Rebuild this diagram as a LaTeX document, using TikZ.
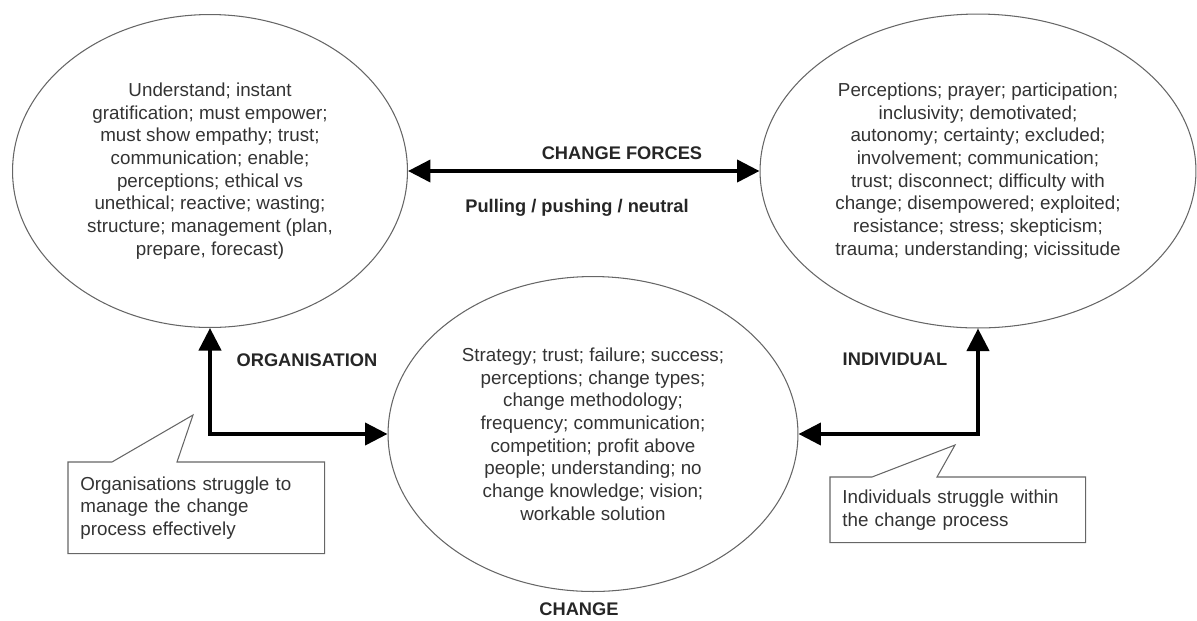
\documentclass[tikz,border=0pt]{standalone}
\usepackage{fontspec}
\setmainfont{Liberation Sans}
\usetikzlibrary{shapes,arrows.meta,positioning,calc}

\begin{document}
\begin{tikzpicture}[x=0.02cm, y=-0.02cm,
        every node/.style={text=black!80, font=\fontsize{10.7}{12.9}\selectfont},
        bubble/.style={draw=black!60, line width=0.6pt, ellipse, inner sep=0pt, align=center},
        heading/.style={font=\fontsize{10.4}{12}\selectfont\bfseries, text=black!85},
        force/.style={line width=2.3pt, {Triangle[length=0.45cm, width=0.44cm]}-{Triangle[length=0.45cm, width=0.44cm]}},
        notebox/.style={anchor=north west, inner xsep=0.24cm, inner ysep=0pt, align=left},
        noteline/.style={draw=black!60, line width=0.6pt}]
    \useasboundingbox (0,0) rectangle (1197,620);

    \node[bubble, minimum width=7.9cm, minimum height=6.26cm] (org) at (210,171)
        {Understand; instant\\ gratification; must empower;\\ must show empathy; trust;\\ communication; enable;\\
         perceptions; ethical vs\\ unethical; reactive; wasting;\\ structure; management (plan,\\ prepare, forecast)};
    \node[bubble, minimum width=8.72cm, minimum height=6.28cm] (ind) at (978,171)
        {Perceptions; prayer; participation;\\ inclusivity; demotivated;\\ autonomy; certainty; excluded;\\ involvement; communication;\\
         trust; disconnect; difficulty with\\ change; disempowered; exploited;\\ resistance; stress; skepticism;\\ trauma; understanding; vicissitude};
    \node[bubble, minimum width=8.2cm, minimum height=6.3cm] (chg) at (593,434)
        {Strategy; trust; failure; success;\\ perceptions; change types;\\ change methodology;\\ frequency; communication;\\
         competition; profit above\\ people; understanding; no\\ change knowledge; vision;\\ workable solution};

    \node[heading] (forces) at (622,153) {CHANGE FORCES};
    \node[heading] (pull) at (577,208) {Pulling / pushing / neutral};
    \node[heading] (orglabel) at (307,360) {ORGANISATION};
    \node[heading] (indlabel) at (895,359) {INDIVIDUAL};
    \node[heading] (chglabel) at (579,609) {CHANGE};

    \draw[force] (org.east) -- (ind.west);
    \draw[force] (org.south) |- (chg.west);
    \draw[force] (ind.south) |- (chg.east);

    \node[notebox, minimum width=5.12cm, minimum height=1.82cm, text width=4.64cm] (orgnote) at (68,462)
        {Organisations struggle to\\ manage the change\\ process effectively};
    \node[notebox, minimum width=5.1cm, minimum height=1.3cm, text width=4.62cm] (indnote) at (830,477)
        {Individuals struggle within\\ the change process};
    \coordinate (orgtip) at (193,415);
    \coordinate (indtip) at (955,445);

    \draw[noteline] ($(orgnote.north west)+(44,0)$) -- (orgtip) -- ($(orgnote.north west)+(109,0)$)
        -- (orgnote.north east) -- (orgnote.south east) -- (orgnote.south west) -- (orgnote.north west) -- cycle;
    \draw[noteline] ($(indnote.north west)+(42,0)$) -- (indtip) -- ($(indnote.north west)+(107,0)$)
        -- (indnote.north east) -- (indnote.south east) -- (indnote.south west) -- (indnote.north west) -- cycle;
\end{tikzpicture}
\end{document}
